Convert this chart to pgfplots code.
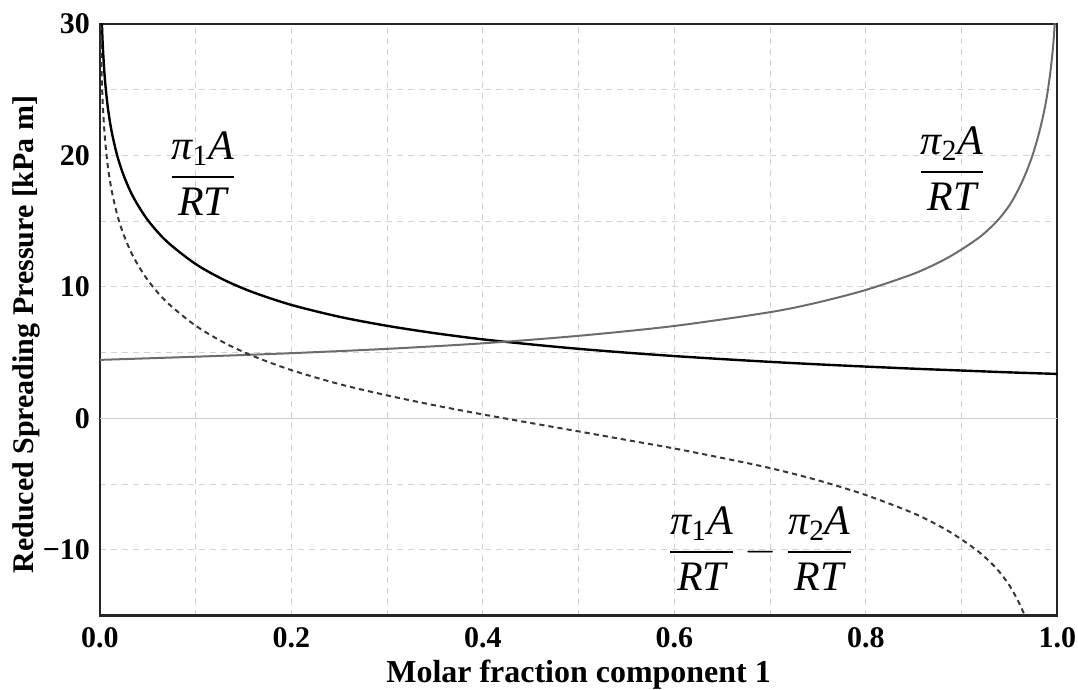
\documentclass[border=0pt]{standalone}
\usepackage{fontspec}
\setmainfont{Liberation Serif}
\usepackage{amsmath}
\usepackage{pgfplots}
\pgfplotsset{compat=1.18}

\definecolor{curveone}{RGB}{0,0,0}
\definecolor{curvetwo}{RGB}{108,108,108}
\definecolor{curvediff}{RGB}{55,55,55}

\newcommand{\pa}[1]{\dfrac{\text{\itshape π}_{\text{#1}}\text{\itshape A}}{\text{\itshape RT}}}

\begin{document}
\begin{tikzpicture}
\begin{axis}[
    name=main,
    scale only axis,
    width=479pt, height=296pt,
    xmin=0, xmax=1, ymin=-15, ymax=30,
    xtick={0,0.2,0.4,0.6,0.8,1},
    xticklabels={0.0,0.2,0.4,0.6,0.8,1.0},
    ytick={-10,0,10,20,30},
    yticklabels={−10,0,10,20,30},
    minor xtick={0.1,0.3,0.5,0.7,0.9},
    minor ytick={-15,-5,5,15,25},
    grid=both,
    major grid style={gray!35, dash pattern=on 3pt off 2.5pt, line width=0.5pt},
    minor grid style={gray!35, dash pattern=on 3pt off 2.5pt, line width=0.5pt},
    major tick length=0pt, minor tick length=0pt,
    axis line style={line width=1.2pt, black!85},
    tick label style={font=\bfseries\fontsize{15}{17}\selectfont, inner sep=1pt},
    xticklabel style={yshift=-4.8pt},
    yticklabel style={xshift=-3.8pt},
    xlabel={Molar fraction component 1},
    ylabel={Reduced Spreading Pressure [kPa m]},
    xlabel style={font=\bfseries\fontsize{16}{18}\selectfont, inner sep=0pt,
        at={(axis description cs:0.5,-0.113)}, anchor=base},
    ylabel style={font=\bfseries\fontsize{15}{17}\selectfont, inner sep=0pt,
        at={(axis description cs:-0.062,0.475)}, anchor=south},
]
% zero line
\addplot[gray!40, line width=0.6pt] coordinates {(0,0) (1,0)};

% pi_1 A / RT
\addplot[curveone, line width=1.2pt, smooth] coordinates {
(0.0005,36.46) (0.001,33.3) (0.0015,31.47) (0.002,30.16) (0.003,28.31)
(0.005,25.97) (0.008,23.80) (0.012,21.91) (0.018,20.0) (0.025,18.44)
(0.035,16.81) (0.05,15.08) (0.07,13.45) (0.1,11.74) (0.13,10.52)
(0.16,9.59) (0.2,8.63) (0.25,7.73) (0.3,7.04) (0.35,6.48) (0.4,6.01)
(0.45,5.63) (0.5,5.29) (0.55,5.00) (0.6,4.74) (0.65,4.51) (0.7,4.30)
(0.75,4.11) (0.8,3.94) (0.85,3.78) (0.9,3.64) (0.95,3.50) (1.0,3.38)
};

% pi_2 A / RT
\addplot[curvetwo, line width=1.0pt, smooth] coordinates {
(0,4.45) (0.1,4.69) (0.2,4.96) (0.3,5.29) (0.4,5.71) (0.5,6.28) (0.6,7.03)
(0.7,8.08) (0.75,8.82) (0.8,9.77) (0.85,11.0) (0.88,12.0) (0.9,12.85)
(0.92,13.85) (0.937,15.0) (0.95,16.2) (0.96,17.5) (0.968,18.8) (0.975,20.2)
(0.982,22.0) (0.988,24.0) (0.992,25.9) (0.995,27.8) (0.997,29.6) (0.9985,31.5)
};

% pi_1 A/RT - pi_2 A/RT
\addplot[curvediff, line width=1.0pt, dash pattern=on 2.6pt off 2pt, smooth] coordinates {
(0.0005,32.0) (0.001,28.85) (0.0015,27.02) (0.002,25.71) (0.003,23.85)
(0.005,21.51) (0.008,19.33) (0.012,17.43) (0.018,15.51) (0.025,13.93)
(0.035,12.28) (0.05,10.51) (0.07,8.83) (0.1,7.05) (0.13,5.75) (0.16,4.74)
(0.2,3.67) (0.25,2.61) (0.3,1.75) (0.35,0.99) (0.4,0.30) (0.45,-0.35)
(0.5,-0.99) (0.55,-1.64) (0.6,-2.29) (0.65,-3.01) (0.7,-3.78) (0.75,-4.71)
(0.8,-5.83) (0.85,-7.22) (0.88,-8.31) (0.9,-9.21) (0.92,-10.27)
(0.937,-11.46) (0.95,-12.7) (0.96,-14.02) (0.968,-15.34)
};

\node[font=\fontsize{21}{25}\selectfont] at (axis cs:0.1075,18.6) {$\pa{1}$};
\node[font=\fontsize{21}{25}\selectfont] at (axis cs:0.89,19.0) {$\pa{2}$};
\node[font=\fontsize{21}{25}\selectfont] at (axis cs:0.69,-9.9) {$\pa{1}-\pa{2}$};
\end{axis}
% blank space above and left of the frame, as in the reference
\path (main.north) ++(0,12pt);
\path (main.south west) ++(-50pt,0);
\end{tikzpicture}
\end{document}
